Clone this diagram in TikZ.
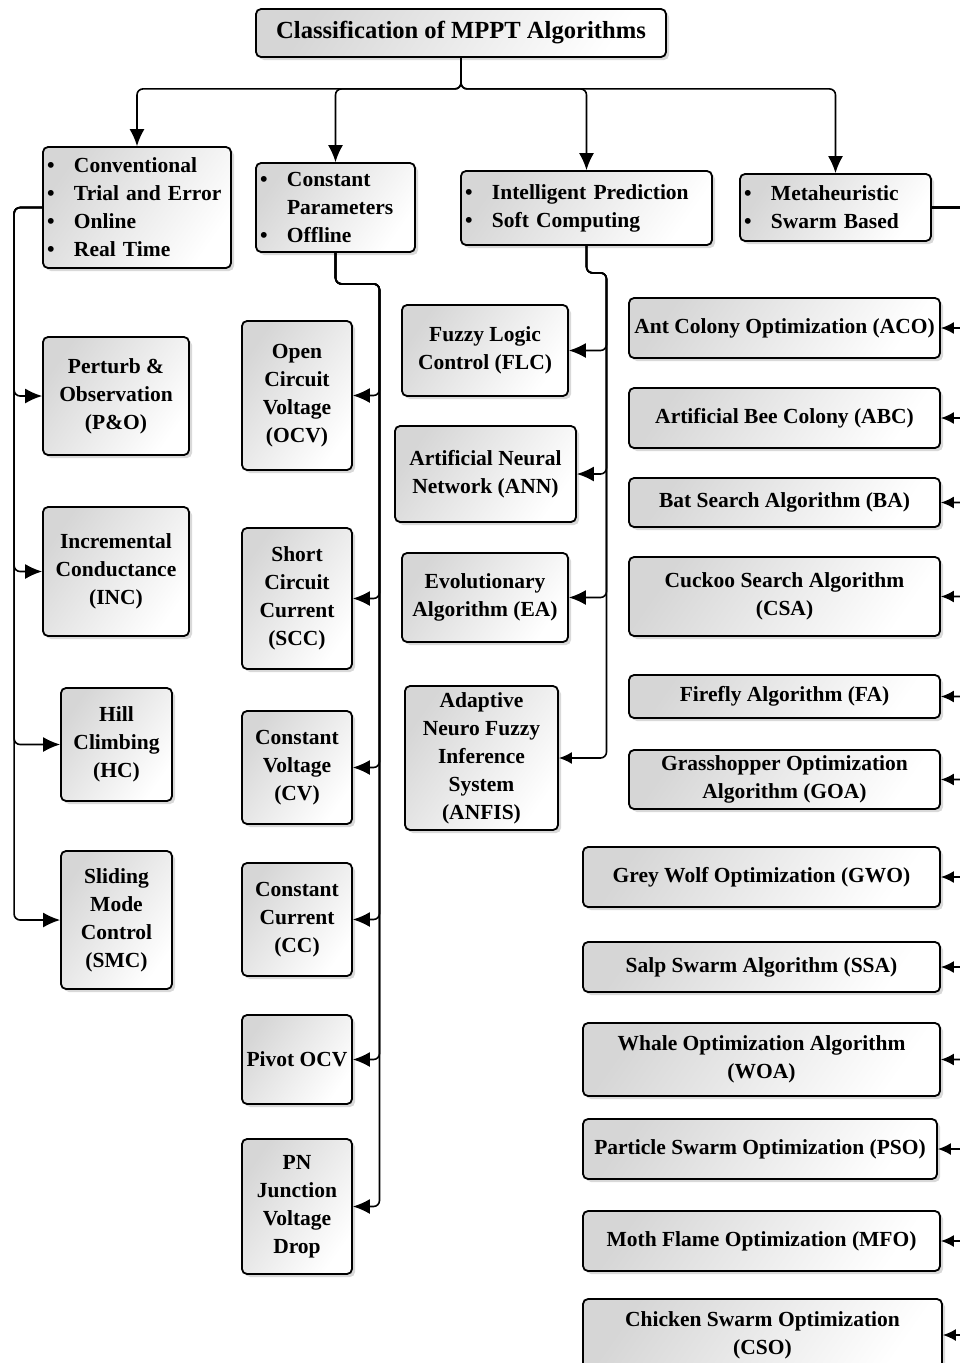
\documentclass[tikz,border=0pt]{standalone}
\usepackage{fontspec}
\setmainfont{Liberation Serif}
\usepackage{tikz}
\usetikzlibrary{shapes,arrows.meta,positioning,shadows}

\newcommand{\itm}{\makebox[27pt][l]{\textbullet}}

\begin{document}
\begin{tikzpicture}[x=1pt, y=-1pt, >={Latex[length=17pt,width=15pt]},
  block/.style={rectangle, rounded corners=5pt, draw, line width=1.8pt,
    top color=black!16, bottom color=white, shading angle=55,
    drop shadow={shadow xshift=3pt, shadow yshift=-3pt, opacity=0.3},
    font=\fontsize{21.5}{28}\selectfont\bfseries, align=center, inner sep=2pt},
  listblock/.style={block, align=left, inner xsep=4pt},
  conn/.style={->, line width=1.6pt, rounded corners=6pt},
  sideconn/.style={conn, -{Latex[length=13pt,width=12pt]}}
]
\useasboundingbox (0,0) rectangle (960,1363);
\clip (0,0) rectangle (960,1363);

% root and categories
\node[block, minimum width=410pt, minimum height=48pt,
  font=\fontsize{24.6}{30}\selectfont\bfseries] (head) at (461,33) {Classification of MPPT Algorithms};
\node[listblock, text width=180pt, minimum height=121pt] (conv) at (137,207.5)
  {\itm Conventional\\ \itm Trial and Error\\ \itm Online\\ \itm Real Time};
\node[listblock, text width=151pt, minimum height=89pt] (const) at (335.5,207.5)
  {\itm Constant\\ \hspace*{27pt}Parameters\\ \itm Offline};
\node[listblock, text width=243pt, minimum height=74pt] (intel) at (586.5,208)
  {\itm Intelligent Prediction\\ \itm Soft Computing};
\node[listblock, text width=183pt, minimum height=67pt] (meta) at (835.5,207.5)
  {\itm Metaheuristic\\ \itm Swarm Based};

% conventional methods
\node[block, minimum width=146pt, minimum height=118pt] (po) at (116,396) {Perturb \&\\ Observation\\ (P\&O)};
\node[block, minimum width=146pt, minimum height=129pt] (inc) at (116,571.5) {Incremental\\ Conductance\\ (INC)};
\node[block, minimum width=111pt, minimum height=113pt] (hc) at (116.5,744.5) {Hill\\ Climbing\\ (HC)};
\node[block, minimum width=111pt, minimum height=138pt] (smc) at (116.5,920) {Sliding\\ Mode\\ Control\\ (SMC)};

% constant parameter methods
\node[block, minimum width=110pt, minimum height=149pt] (ocv) at (297,395.5) {Open\\ Circuit\\ Voltage\\ (OCV)};
\node[block, minimum width=110pt, minimum height=141pt] (scc) at (297,598.5) {Short\\ Circuit\\ Current\\ (SCC)};
\node[block, minimum width=110pt, minimum height=113pt] (cv) at (297,767.5) {Constant\\ Voltage\\ (CV)};
\node[block, minimum width=110pt, minimum height=113pt] (cc) at (297,919.5) {Constant\\ Current\\ (CC)};
\node[block, minimum width=110pt, minimum height=89pt] (pivot) at (297,1059.5) {Pivot OCV};
\node[block, minimum width=110pt, minimum height=135pt] (pn) at (297,1206.5) {PN\\ Junction\\ Voltage\\ Drop};

% soft computing methods
\node[block, minimum width=166pt, minimum height=91pt] (flc) at (485,350.5) {Fuzzy Logic\\ Control (FLC)};
\node[block, minimum width=181pt, minimum height=96pt] (ann) at (485.5,474) {Artificial Neural\\ Network (ANN)};
\node[block, minimum width=166pt, minimum height=89pt] (ea) at (485,597.5) {Evolutionary\\ Algorithm (EA)};
\node[block, minimum width=153pt, minimum height=144pt] (anfis) at (481.5,758) {Adaptive\\ Neuro Fuzzy\\ Inference\\ System\\ (ANFIS)};

% swarm based methods
\node[block, minimum width=311pt, minimum height=60pt] (aco) at (784.5,328) {Ant Colony Optimization (ACO)};
\node[block, minimum width=311pt, minimum height=60pt] (abc) at (784.5,418) {Artificial Bee Colony (ABC)};
\node[block, minimum width=311pt, minimum height=49pt] (ba) at (784.5,502.5) {Bat Search Algorithm (BA)};
\node[block, minimum width=311pt, minimum height=79pt] (csa) at (784.5,596.5) {Cuckoo Search Algorithm\\ (CSA)};
\node[block, minimum width=311pt, minimum height=43pt] (fa) at (784.5,696.5) {Firefly Algorithm (FA)};
\node[block, minimum width=311pt, minimum height=59pt] (goa) at (784.5,779.5) {Grasshopper Optimization\\ Algorithm (GOA)};
\node[block, minimum width=357pt, minimum height=60pt] (gwo) at (761.5,877) {Grey Wolf Optimization (GWO)};
\node[block, minimum width=357pt, minimum height=50pt] (ssa) at (761.5,967) {Salp Swarm Algorithm (SSA)};
\node[block, minimum width=357pt, minimum height=73pt] (woa) at (761.5,1059.5) {Whale Optimization Algorithm\\ (WOA)};
\node[block, minimum width=354pt, minimum height=60pt] (pso) at (760,1149) {Particle Swarm Optimization (PSO)};
\node[block, minimum width=357pt, minimum height=60pt] (mfo) at (761.5,1241) {Moth Flame Optimization (MFO)};
\node[block, minimum width=359pt, minimum height=72pt] (cso) at (762.5,1335) {Chicken Swarm Optimization\\ (CSO)};

% bus points
\coordinate (tbus) at ([yshift=-31pt]head.south);
\coordinate (lbus) at ([xshift=-28pt]conv.west);
\coordinate (cbus) at ([xshift=44pt, yshift=-31pt]const.south);
\coordinate (ibus) at ([xshift=20pt, yshift=-27pt]intel.south);
\coordinate (mbus) at ([xshift=40pt]meta.east);

\draw[conn] (head.south) -- (tbus) -| (conv.north);
\draw[conn] (head.south) -- (tbus) -| (const.north);
\draw[conn] (head.south) -- (tbus) -| (intel.north);
\draw[conn] (head.south) -- (tbus) -| (meta.north);

\draw[conn] (conv.west) -- (lbus) |- (po.west);
\draw[conn] (conv.west) -- (lbus) |- (inc.west);
\draw[conn] (conv.west) -- (lbus) |- (hc.west);
\draw[conn] (conv.west) -- (lbus) |- (smc.west);

\draw[conn] (const.south) |- (cbus) |- (ocv.east);
\draw[conn] (const.south) |- (cbus) |- (scc.east);
\draw[conn] (const.south) |- (cbus) |- (cv.east);
\draw[conn] (const.south) |- (cbus) |- (cc.east);
\draw[conn] (const.south) |- (cbus) |- (pivot.east);
\draw[conn] (const.south) |- (cbus) |- (pn.east);

\draw[conn] (intel.south) |- (ibus) |- (flc.east);
\draw[conn] (intel.south) |- (ibus) |- (ann.east);
\draw[conn] (intel.south) |- (ibus) |- (ea.east);
\draw[sideconn] (intel.south) |- (ibus) |- (anfis.east);

\draw[sideconn] (meta.east) -- (mbus) |- (aco.east);
\draw[sideconn] (meta.east) -- (mbus) |- (abc.east);
\draw[sideconn] (meta.east) -- (mbus) |- (ba.east);
\draw[sideconn] (meta.east) -- (mbus) |- (csa.east);
\draw[sideconn] (meta.east) -- (mbus) |- (fa.east);
\draw[sideconn] (meta.east) -- (mbus) |- (goa.east);
\draw[sideconn] (meta.east) -- (mbus) |- (gwo.east);
\draw[sideconn] (meta.east) -- (mbus) |- (ssa.east);
\draw[sideconn] (meta.east) -- (mbus) |- (woa.east);
\draw[sideconn] (meta.east) -- (mbus) |- (pso.east);
\draw[sideconn] (meta.east) -- (mbus) |- (mfo.east);
\draw[sideconn] (meta.east) -- (mbus) |- (cso.east);
\end{tikzpicture}
\end{document}
